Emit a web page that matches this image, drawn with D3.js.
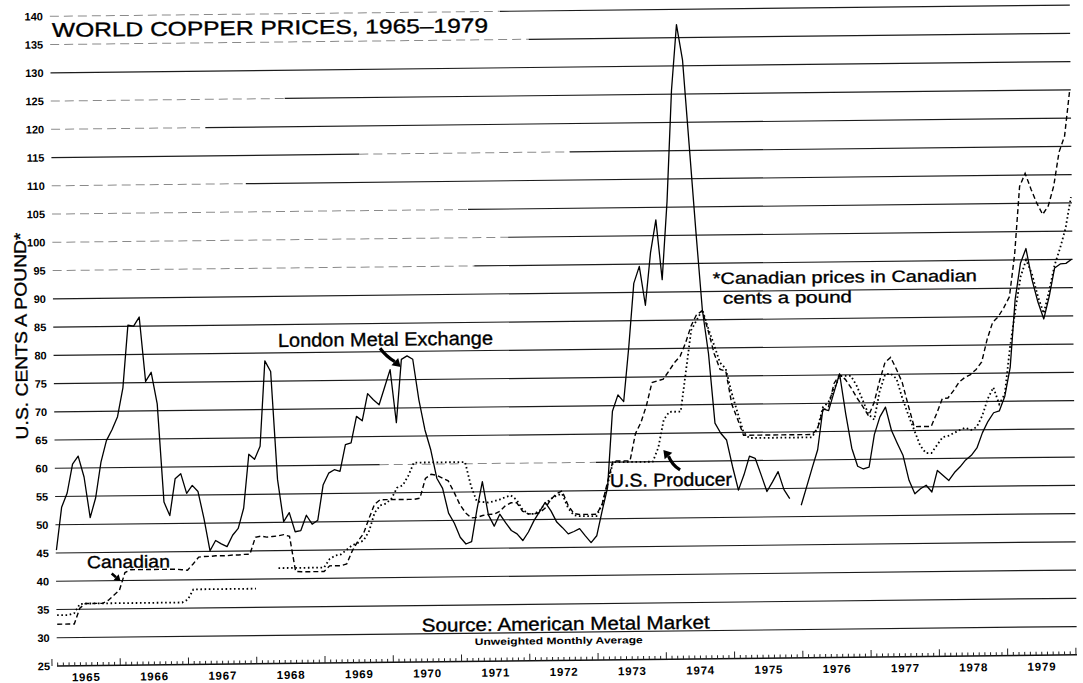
<!DOCTYPE html>
<html lang="en">
<head>
<meta charset="utf-8">
<title>World Copper Prices, 1965-1979</title>
<script src="https://cdn.jsdelivr.net/npm/d3@7"></script>
<style>
  body { margin: 0; background: #fff; }
  text { font-family: "Liberation Sans", Arial, Helvetica, sans-serif; fill: #000; }
</style>
</head>
<body>
<svg id="chart"></svg>
<script>
// monthly averages, Jan 1965 .. Dec 1979 (null = no quote)
var years = d3.range(1965, 1980);
var yTicks = d3.range(25, 141, 5);

var lme = [
  45.5, 53.1, 55.6, 60.7, 62.1, 58.4, 51.2, 54.7, 61, 64.8, 66.7, 69,
  74.1, 85.2, 85, 86.6, 75.2, 76.8, 71.2, 53.8, 51.4, 57.9, 58.8, 55.3,
  56.7, 55.6, 50.8, 45.1, 46.9, 46.3, 45.8, 47.8, 49, 52.6, 62.1, 61.2,
  63.5, 78.6, 76.7, 57.6, 50.1, 51.7, 48.3, 48.5, 51.2, 49.6, 50.3, 56.5,
  58.6, 59.2, 58.9, 63.6, 63.9, 68.6, 67.8, 72.6, 71.5, 70.6, 73.7, 76.8,
  67.4, 78.6, 79.2, 78.6, 71.4, 66.1, 62.5, 57.5, 55.7, 51.3, 49.5, 47,
  45.8, 46.2, 51.9, 56.8, 50.9, 48.9, 51, 49.5, 48.1, 47.5, 46.3, 47.8,
  49.8, 51.4, 53, 51.5, 49.5, 48.5, 47.4, 47.8, 48.3, 47, 45.8, 47,
  51.4, 55.5, 69, 71.9, 70.7, 80.4, 91.6, 94.6, 87.7, 97, 102.8, 92.2,
  106, 125.7, 137.3, 131, 116, 100.9, 86.8, 79, 66.7, 64.9, 63.7, 59,
  54.8, 57.5, 60.8, 60.4, 57.5, 54.5, 56.2, 58, 54.8, 53.2, null, 52,
  55.3, 58.6, 61.8, 69, 68.7, 72, 75.2, 68.1, 62, 58.8, 58.3, 58.6,
  64.4, 67.5, 69.2, 65.1, 62.8, 60.6, 56.2, 53.8, 54.7, 55.3, 54.1, 57.9,
  57, 56.1, 57.5, 58.5, 59.7, 60.5, 61.8, 64.5, 66.5, 68, 68.3, 70.9,
  76, 88, 94.4, 97, 91.5, 87.5, 84.5, 88.5, 93.5, 94.2, 94.3, 95
];

var usProducer = [
  34, 34, 34, 34.3, 35.9, 36, 36, 36, 36, 36, 36, 36,
  36, 36, 36, 36, 36, 36, 36, 36, 36, 36, 36, 36.5,
  38.3, 38.3, 38.3, 38.3, 38.3, 38.3, 38.3, 38.3, 38.3, 38.3, 38.3, 38.3,
  null, null, null, 41.9, 41.9, 41.9, 41.9, 41.9, 41.9, 41.9, 41.9, 41.9,
  43.4, 44, 44.2, 45, 45.8, 46.2, 46.6, 48.3, 51.5, 52.8, 53.1, 54,
  55.9, 56.3, 58, 60.3, 60.3, 60.3, 60.3, 60.3, 60.3, 60.3, 60.3, 60.3,
  60.3, 56, 53.3, 53.2, 53.1, 53.3, 53.6, 54, 54.3, 53.5, 51.8, 51,
  51, 51.5, 52.8, 53.6, 54.2, 54.5, 52, 50.7, 50.5, 50.5, 50.5, 50.5,
  52.5, 56, 60, 60, 60, 60, 60, 60, 60, 60, 62.5, 67.4,
  68.8, 68.8, 68.8, 76, 83.2, 85, 86.8, 83.5, 80.5, 77.4, 76.3, 72,
  68.5, 65, 64, 64, 64, 64, 64, 64, 64, 64, 64, 64,
  64, 64, 65.5, 69.3, 70.2, 72.5, 74.8, 74.8, 74.8, 73, 70.5, 68,
  67, 72, 75, 75.1, 74.2, 70.7, 67.8, 65.1, 62.4, 61, 61, 62.4,
  63.8, 64, 64.5, 65, 65.4, 65, 65.5, 67.5, 70.5, 72.5, 69.5, 71.3,
  79.5, 86, 92, 95, 92.5, 88.5, 85.5, 89.5, 94, 97, 100.5, 106
];

var canadian = [
  32.4, 32.4, 32.4, 32.4, 35.2, 36, 36, 36, 36, 36.5, 37.4, 38.3,
  41.4, 41.9, 41.9, 41.9, 41.9, 41.9, 41.9, 41.9, 41.9, 41.9, 41.8, 41.7,
  42.8, 44, 44.1, 44.1, 44.2, 44.2, 44.2, 44.3, 44.3, 44.4, 44.4, 47.4,
  47.6, 47.4, 47.5, 47.6, 47.8, 47.5, 41.3, 41.2, 41.2, 41.2, 41.2, 41.2,
  42.2, 42.2, 42.2, 42.5, 44.8, 46.5, 47.8, 50.5, 53, 53.8, 53.8, 53.8,
  53.8, 53.8, 53.8, 53.8, 54, 57.5, 58.2, 58, 57.5, 57, 55, 52.8,
  51.3, 50.4, 50.5, 50.8, 51, 51, 51.5, 52.5, 53, 53, 51.5, 51,
  51, 51.2, 52, 53.5, 54.5, 55, 52.5, 51, 50.8, 50.8, 50.8, 50.8,
  52.5, 56.5, 60.2, 60.2, 60.2, 60.2, 65, 67, 70, 74, 74.3, 74.6,
  76, 77.5, 78.6, 81, 84, 86, 86.6, 83, 79, 76.2, 75.9, 70,
  67.3, 64.5, 64.5, 64.5, 64.5, 64.5, 64.5, 64.5, 64.5, 64.5, 64.5, 64.5,
  64.5, 64.5, 65.5, 68.8, 69.4, 73.5, 75, 74.2, 72.7, 70.9, 69.4, 67.7,
  70, 73.8, 77.1, 78, 75.9, 73.5, 69.5, 65.7, 65.7, 65.7, 65.7, 68,
  70.6, 70.7, 72, 73.5, 74.3, 74.8, 75.7, 77, 81, 84, 85, 86.6,
  88.5, 96, 108, 110.3, 107.5, 105, 103, 104.5, 108, 114, 116.8, 125
];

// grid lines that came out faint in the print: [value, from month, to month]
var fadedGrid = [[140,0,80],[135,0,85],[125,0,42],[120,0,28],[115,55,92],
                 [110,0,35],[105,0,74],[100,0,81],[95,0,75],[60,58,96]];

var width = 1083, height = 683;
var gx0 = 57, gx1 = 1077;

var svg = d3.select("#chart").attr("width", width).attr("height", height);
svg.append("rect").attr("width", width).attr("height", height).attr("fill", "#fff");

// the printed sheet sits slightly askew
var g = svg.append("g").attr("transform", "rotate(-0.63,58,666)");

var x = d3.scaleLinear().domain([0, 180]).range([52, 1076]);
var y = d3.scaleLinear().domain([25, 140]).range([666, 16.25]);

// grid
function gridSegments(v) {
  var f = fadedGrid.find(function(d){ return d[0] == v; });
  if (!f) return [{a: gx0, b: gx1, faint: false}];
  var a = Math.max(gx0, x(f[1])), b = x(f[2]), segs = [];
  if (a > gx0 + 1) segs.push({a: gx0, b: a, faint: false});
  segs.push({a: a, b: b, faint: true});
  segs.push({a: b, b: gx1, faint: false});
  return segs;
}

yTicks.filter(function(v){ return v > 25; }).forEach(function(v){
  g.selectAll(null).data(gridSegments(v)).enter().append("line")
    .attr("x1", function(d){ return d.a; })
    .attr("x2", function(d){ return d.b; })
    .attr("y1", y(v)).attr("y2", y(v))
    .attr("stroke", function(d){ return d.faint ? "#8a8a8a" : "#1c1c1c"; })
    .attr("stroke-width", function(d){ return d.faint ? 1 : 1.2; })
    .attr("stroke-dasharray", function(d){ return d.faint ? "9,5" : null; });
});

// y labels
g.selectAll(".ylab").data(yTicks).enter().append("text")
  .attr("x", 50).attr("y", function(d){ return y(d) + 4; })
  .attr("text-anchor", "end")
  .attr("font-size", "11px").attr("font-weight", "bold")
  .text(function(d){ return d; });

// bottom axis with monthly ticks
g.append("line").attr("x1", gx0).attr("x2", gx1)
  .attr("y1", y(25)).attr("y2", y(25))
  .attr("stroke", "#111").attr("stroke-width", 1.5);
g.selectAll(".mtick").data(d3.range(0, 181)).enter().append("line")
  .attr("x1", function(d){ return x(d); }).attr("x2", function(d){ return x(d); })
  .attr("y1", y(25)).attr("y2", function(d){ return y(25) - (d % 12 == 0 ? 7 : 3.5); })
  .attr("stroke", "#222").attr("stroke-width", 1);

g.selectAll(".yr").data(years).enter().append("text")
  .attr("x", function(d, i){ return x(i * 12 + 6); })
  .attr("y", 681.5)
  .attr("text-anchor", "middle")
  .attr("font-size", "11.5px").attr("font-weight", "bold")
  .attr("letter-spacing", "0.8px")
  .text(function(d){ return d; });

// series
var line = d3.line()
  .defined(function(d){ return d != null; })
  .x(function(d, i){ return x(i + 1); })
  .y(function(d){ return y(d); });

g.append("path").datum(canadian).attr("d", line)
  .attr("fill", "none").attr("stroke", "#000")
  .attr("stroke-width", 1.4).attr("stroke-dasharray", "5,3");
g.append("path").datum(usProducer).attr("d", line)
  .attr("fill", "none").attr("stroke", "#000")
  .attr("stroke-width", 1.8).attr("stroke-dasharray", "1.6,2.6");
g.append("path").datum(lme).attr("d", line)
  .attr("fill", "none").attr("stroke", "#000")
  .attr("stroke-width", 1.3).attr("stroke-linejoin", "round");

// texts (a thin outline gives the heavier printed look)
function label(txt, tx, ty, size, len, weight) {
  var t = g.append("text").attr("x", tx).attr("y", ty)
    .attr("font-size", size + "px")
    .attr("font-weight", weight || "normal")
    .attr("textLength", len).attr("lengthAdjust", "spacingAndGlyphs")
    .text(txt);
  if (!weight) t.attr("stroke", "#000").attr("stroke-width", 0.35);
  return t;
}

label("WORLD COPPER PRICES, 1965\u20131979", 59, 37, 20, 436);
label("London Metal Exchange", 281.5, 349.4, 19, 215);
label("U.S. Producer", 612, 493, 18.5, 122);
label("Canadian", 88, 568.6, 17.5, 83);
label("*Canadian prices in Canadian", 717, 291.3, 16.5, 264);
label("cents a pound", 727, 311.2, 16.5, 129);
label("Source: American Metal Market", 422, 635.7, 18.5, 288);
label("Unweighted Monthly Average", 475, 649.6, 9.5, 168, "bold");

g.append("text")
  .attr("transform", "translate(30.6,335.6) rotate(-90)")
  .attr("text-anchor", "middle")
  .attr("font-size", "17px")
  .attr("stroke", "#000").attr("stroke-width", 0.35)
  .attr("textLength", 207).attr("lengthAdjust", "spacingAndGlyphs")
  .text("U.S. CENTS A POUND*");

// pointer arrows
function arrow(x1, y1, x2, y2, bend, w, hl, hw) {
  var dx = x2 - x1, dy = y2 - y1, len = Math.hypot(dx, dy);
  var ux = dx / len, uy = dy / len;
  var bx = x2 - ux * hl, by = y2 - uy * hl;
  var mx = (x1 + bx) / 2 - uy * bend, my = (y1 + by) / 2 + ux * bend;
  g.append("path")
    .attr("d", "M" + x1 + "," + y1 + " Q" + mx + "," + my + " " + bx + "," + by)
    .attr("fill", "none").attr("stroke", "#000").attr("stroke-width", w);
  g.append("path")
    .attr("d", "M" + x2 + "," + y2 + " L" + (bx - uy * hw) + "," + (by + ux * hw) +
               " L" + (bx + uy * hw) + "," + (by - ux * hw) + "Z")
    .attr("fill", "#000");
}

arrow(383.5, 351.8, 404, 370.8, 2, 3.2, 8, 5);
arrow(682.2, 476.8, 665.7, 456.6, -3, 3.2, 8, 5);
arrow(112.7, 574, 121.5, 581.8, 0, 2.6, 6, 4);
</script>
</body>
</html>
